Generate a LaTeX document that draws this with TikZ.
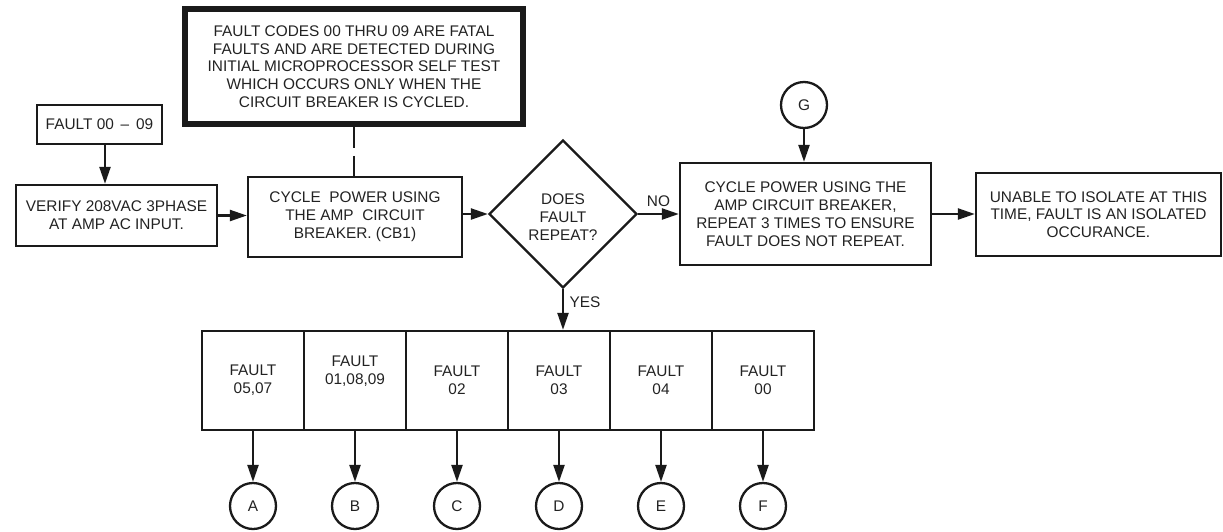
\documentclass[tikz,border=0pt]{standalone}
\usepackage{fontspec}
\setmainfont{Liberation Sans}
\usetikzlibrary{shapes.geometric,arrows.meta}
\definecolor{ink}{HTML}{1A1A1A}
\definecolor{txt}{HTML}{222222}
\begin{document}
\begin{tikzpicture}[x=1pt,y=-1pt,
  every node/.style={text=txt,font=\fontsize{15.4}{17.8}\selectfont,align=center,inner sep=0pt},
  box/.style={draw=ink,line width=2.3pt,rectangle,minimum width=#1},
  notebox/.style={draw=ink,line width=5.5pt,rectangle,minimum width=338pt,minimum height=115pt},
  decision/.style={draw=ink,line width=2.3pt,diamond,minimum width=148pt,minimum height=148pt},
  conn/.style={draw=ink,line width=2.3pt,circle,minimum size=46pt},
  faultbox/.style={draw=ink,line width=2.3pt,rectangle,minimum width=102pt,minimum height=99pt},
  arr/.style={draw=ink,line width=2.3pt,-{Triangle[length=17pt,width=11pt]}}
]
\useasboundingbox (0,0) rectangle (1223,531);

% upper flow
\node[box=125pt,minimum height=39pt] (f0009) at (99.5,124.5) {FAULT 00 \,–\, 09};
\node[box=201pt,minimum height=61pt] (verify) at (116.5,215.5) {VERIFY 208VAC 3PHASE\\AT AMP AC INPUT.};
\node[notebox] (note) at (354,66.5) {FAULT CODES 00 THRU 09 ARE FATAL\\FAULTS AND ARE DETECTED DURING\\INITIAL MICROPROCESSOR SELF TEST\\WHICH OCCURS ONLY WHEN THE\\CIRCUIT BREAKER IS CYCLED.};
\node[box=214pt,minimum height=80pt] (cyc1) at (355,217) {CYCLE\ \ POWER USING\\THE AMP\ \ CIRCUIT\\BREAKER. (CB1)};
\node[decision] (dia) at (563,214) {};
\node (diatext) at (563,217) {DOES\\FAULT\\REPEAT?};
\node[box=251pt,minimum height=102pt] (cyc2) at (805.5,214) {CYCLE POWER USING THE\\AMP CIRCUIT BREAKER,\\REPEAT 3 TIMES TO ENSURE\\FAULT DOES NOT REPEAT.};
\node[box=245pt,minimum height=83pt] (unable) at (1098.5,214.5) {UNABLE TO ISOLATE AT THIS\\TIME, FAULT IS AN ISOLATED\\OCCURANCE.};
\node[conn] (G) at (804,105) {G};

% fault code row
\node[faultbox] (r1) at (253,380.5) {FAULT\\05,07};
\node[faultbox,label={[yshift=9pt]center:{FAULT\\01,08,09}}] (r2) at (355,380.5) {};
\node[faultbox] (r3) at (457,380.5) {FAULT\\02};
\node[faultbox] (r4) at (559,380.5) {FAULT\\03};
\node[faultbox] (r5) at (661,380.5) {FAULT\\04};
\node[faultbox] (r6) at (763,380.5) {FAULT\\00};

% off-page connectors
\foreach \n/\t [count=\i] in {1/A,2/B,3/C,4/D,5/E,6/F}
  \node[conn] (c\n) at (151+102*\i,506) {\t};

% connectors
\draw[arr] ([xshift=5.5pt]f0009.south) -- ([xshift=5.5pt]f0009.south |- verify.north);
\draw[arr] (verify.east) -- (verify.east -| cyc1.west);
\draw[draw=ink,line width=2.3pt,dash pattern=on 21pt off 8pt on 40pt] (note.south) -- (note.south |- cyc1.north);
\draw[arr] (cyc1.east |- dia.west) -- (dia.west);
\draw[arr] (dia.east) -- node[above=6pt] (no) {NO} (cyc2.west);
\draw[arr] (cyc2.east) -- (cyc2.east -| unable.west);
\draw[arr] (G.south) -- (G.south |- cyc2.north);
\draw[arr] (dia.south) -- (dia.south |- r4.north);
\node (yes) at (585,302) {YES};
\foreach \n in {1,...,6}
  \draw[arr] (r\n.south) -- (c\n.north);
\end{tikzpicture}
\end{document}
